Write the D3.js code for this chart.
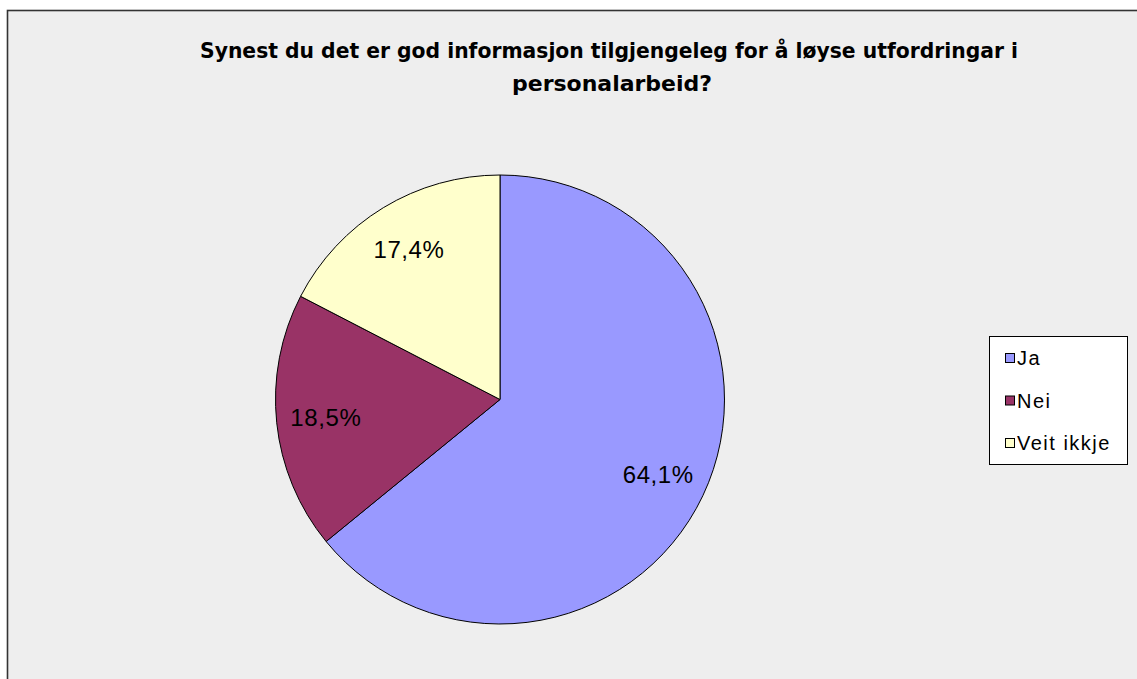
<!DOCTYPE html>
<html>
<head>
<meta charset="utf-8">
<script src="https://cdn.jsdelivr.net/npm/d3@7"></script>
<style>
  html, body { margin: 0; padding: 0; background: #ffffff; }
  svg { display: block; }
</style>
</head>
<body>
<svg id="chart" width="1137" height="679"></svg>
<script>
// Survey answers
const categories = ["Ja", "Nei", "Veit ikkje"];
const shares = [64.1, 18.5, 17.4];
const shareLabels = ["64,1%", "18,5%", "17,4%"];
const colours = ["#9999FF", "#993366", "#FFFFCC"];
const titleLines = [
  "Synest du det er god informasjon tilgjengeleg for å løyse utfordringar i",
  "personalarbeid?"
];

const svg = d3.select("#chart");
const W = 1137, H = 679;

// Chart area with grey fill and dark frame (runs past right/bottom edges)
svg.append("rect")
  .attr("x", 7.5).attr("y", 10.5)
  .attr("width", W + 20).attr("height", H + 20)
  .attr("fill", "#EEEEEE")
  .attr("stroke", "#333333")
  .attr("stroke-width", 1.6);

// Title
const titleFont = "'Liberation Sans Narrow', 'Arial Narrow', 'DejaVu Sans Condensed', sans-serif";
const title = svg.append("g").attr("font-family", titleFont)
  .attr("font-weight", "bold").attr("font-size", 21).attr("fill", "#000");
const titleWidths = [818, 200];
const titleY = [58, 91];
titleLines.forEach((t, i) => {
  title.append("text")
    .attr("x", 609 + (i ? 3 : 0)).attr("y", titleY[i])
    .attr("text-anchor", "middle")
    .attr("textLength", titleWidths[i])
    .attr("lengthAdjust", "spacingAndGlyphs")
    .text(t);
});

// Pie
const cx = 500, cy = 399.5, radius = 224.5;
const pie = d3.pie().sort(null).value(d => d)(shares);
const arc = d3.arc().innerRadius(0).outerRadius(radius);
const labelArc = d3.arc().innerRadius(radius * 0.78).outerRadius(radius * 0.78);

const g = svg.append("g").attr("transform", `translate(${cx},${cy})`);
g.selectAll("path.slice")
  .data(pie)
  .join("path")
  .attr("class", "slice")
  .attr("d", arc)
  .attr("fill", (d, i) => colours[i])
  .attr("stroke", "#000")
  .attr("stroke-width", 1);

g.selectAll("text.val")
  .data(pie)
  .join("text")
  .attr("class", "val")
  .attr("transform", d => `translate(${labelArc.centroid(d)})`)
  .attr("text-anchor", "middle")
  .attr("dominant-baseline", "central")
  .attr("font-family", "'Liberation Sans', Arial, sans-serif")
  .attr("font-size", 24)
  .attr("letter-spacing", 0.6)
  .attr("fill", "#000")
  .text((d, i) => shareLabels[i]);

// Legend
const legend = svg.append("g");
legend.append("rect")
  .attr("x", 989.5).attr("y", 336.5)
  .attr("width", 138).attr("height", 128)
  .attr("fill", "#ffffff")
  .attr("stroke", "#000").attr("stroke-width", 1);

const legendY = d3.scalePoint().domain(categories).range([358, 443]);
const items = legend.selectAll("g.item").data(categories).join("g").attr("class", "item")
  .attr("transform", d => `translate(1005,${legendY(d)})`);
items.append("rect")
  .attr("x", 0.5).attr("y", -4.5).attr("width", 9).attr("height", 9)
  .attr("fill", (d, i) => colours[i])
  .attr("stroke", "#000").attr("stroke-width", 1);
items.append("text")
  .attr("x", 12).attr("y", 0)
  .attr("dominant-baseline", "central")
  .attr("font-family", "'Liberation Sans', Arial, sans-serif")
  .attr("font-size", 20)
  .attr("letter-spacing", 1.5)
  .attr("fill", "#000")
  .text(d => d);
</script>
</body>
</html>
